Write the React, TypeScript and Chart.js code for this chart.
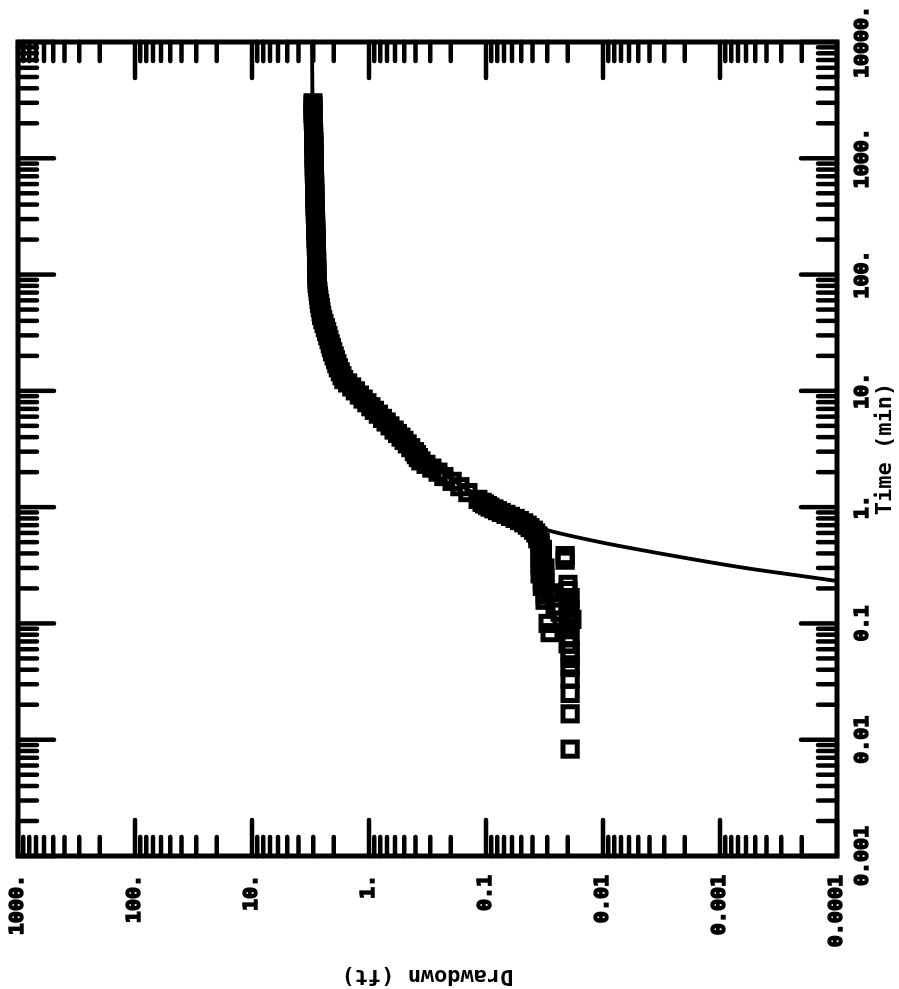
import { useEffect, useRef } from 'react';
import { Chart, registerables } from 'chart.js';

Chart.register(...registerables);

// ---- axis ticks / labels ----
const TIME_TICKS = [0.001, 0.01, 0.1, 1, 10, 100, 1000, 10000];
const TIME_LABELS = ['0.001', '0.01', '0.1', '1.', '10.', '100.', '1000.', '10000.'];
const DRAWDOWN_TICKS = [0.0001, 0.001, 0.01, 0.1, 1, 10, 100, 1000];
const DRAWDOWN_LABELS = ['0.0001', '0.001', '0.01', '0.1', '1.', '10.', '100.', '1000.'];
const X_TITLE = 'Time (min)';
const Y_TITLE = 'Drawdown (ft)';

// ---- observed drawdown (open squares) ----
const OBS_TIME = [
  0.0083, 0.0167, 0.025, 0.0333, 0.0417, 0.05, 0.0583, 0.0667, 0.075, 0.0833,
  0.0917, 0.1, 0.1083, 0.1167, 0.125, 0.1333, 0.1417, 0.15, 0.1583, 0.1667,
  0.175, 0.1833, 0.1917, 0.2, 0.2083, 0.2167, 0.225, 0.2333, 0.25, 0.2667,
  0.2833, 0.3, 0.3167, 0.3333, 0.35, 0.3667, 0.3833, 0.4, 0.4333, 0.4667,
  0.5, 0.5333, 0.5667, 0.6, 0.6333, 0.6667, 0.7, 0.7333, 0.7667, 0.8,
  0.8333, 0.8667, 0.9, 0.9333, 0.9667, 1.0, 1.0333, 1.0667, 1.1, 1.1667,
  1.3333, 1.5, 1.6667, 1.8333, 2.0, 2.1667, 2.3333, 2.5, 2.67, 2.83,
  3.0, 3.25, 3.5, 3.75, 4.0, 4.3, 4.6, 5.0, 5.4, 5.8,
  6.3, 6.8, 7.3, 7.9, 8.5, 9.2, 10, 10.8, 11.7, 12.5,
  13.5, 14.6, 15.8, 17.1, 18.5, 20, 21.7, 23.5, 25.4, 27.5,
  29.8, 32.3, 35, 38, 41, 44.5, 48, 52, 56.5, 61,
  66, 72, 78, 84, 91, 99, 107, 116, 126, 137,
  148, 160, 174, 188, 204, 221, 240, 260, 282, 305,
  330, 358, 388, 420, 455, 493, 534, 578, 626, 678,
  735, 796, 862, 934, 1012, 1096, 1188, 1287, 1394, 1510,
  1636, 1772, 1920, 2080, 2253, 2441, 2644, 2864, 3000,
];
const OBS_DRAWDOWN = [
  0.0191, 0.0191, 0.0191, 0.0191, 0.0191, 0.0191, 0.0191, 0.0199, 0.0191, 0.0284,
  0.0199, 0.0295, 0.0184, 0.0199, 0.0233, 0.0191, 0.0257, 0.0199, 0.0313, 0.0191,
  0.0313, 0.0284, 0.0199, 0.0313, 0.033, 0.0199, 0.0313, 0.033, 0.0313, 0.0345,
  0.033, 0.0313, 0.0345, 0.033, 0.0211, 0.0345, 0.0211, 0.0345, 0.033, 0.0345,
  0.0345, 0.036, 0.036, 0.0376, 0.0393, 0.0421, 0.0444, 0.0476, 0.0517, 0.0564,
  0.0617, 0.0675, 0.0741, 0.0797, 0.0857, 0.0925, 0.097, 0.103, 0.108, 0.117,
  0.143, 0.167, 0.195, 0.229, 0.257, 0.29, 0.326, 0.36, 0.378, 0.394,
  0.41, 0.44, 0.471, 0.502, 0.533, 0.571, 0.61, 0.662, 0.714, 0.767,
  0.832, 0.899, 0.964, 1.044, 1.122, 1.208, 1.306, 1.403, 1.521, 1.642,
  1.701, 1.762, 1.827, 1.881, 1.934, 1.987, 2.044, 2.097, 2.146, 2.197,
  2.249, 2.304, 2.363, 2.425, 2.483, 2.537, 2.57, 2.605, 2.642, 2.676,
  2.7, 2.727, 2.753, 2.777, 2.784, 2.788, 2.792, 2.796, 2.8, 2.804,
  2.808, 2.812, 2.818, 2.825, 2.831, 2.838, 2.845, 2.852, 2.859, 2.866,
  2.872, 2.879, 2.886, 2.894, 2.899, 2.904, 2.908, 2.912, 2.917, 2.921,
  2.926, 2.93, 2.935, 2.939, 2.943, 2.948, 2.952, 2.957, 2.962, 2.967,
  2.972, 2.978, 2.983, 2.988, 2.994, 2.999, 3.004, 3.009, 3.013,
];

// ---- fitted type curve (solid line) ----
const FIT_TIME = [0.22, 0.25, 0.3, 0.4, 0.5, 0.65, 0.8, 1.0, 1.2, 1.5, 2, 3, 4, 6, 10, 20, 30, 50, 100, 300, 1000, 3000, 10000];
const FIT_DRAWDOWN = [0.00007, 0.00017, 0.00061, 0.00326, 0.0106, 0.0326, 0.0512, 0.0805, 0.108, 0.157, 0.238, 0.389, 0.532, 0.805, 1.33, 2.03, 2.29, 2.57, 2.78, 2.87, 2.97, 3.04, 3.07];

const W = 989; // unrotated canvas width (time axis)
const H = 899; // unrotated canvas height (drawdown axis)

const frameTicks = {
  id: 'frameTicks',
  afterDatasetsDraw(chart: any) {
    const { ctx, chartArea } = chart;
    const { left, right, top, bottom } = chartArea;
    const xs = chart.scales.x;
    const ys = chart.scales.y;
    const MAJOR = 36;
    const MINOR = 19;
    ctx.save();
    ctx.strokeStyle = '#000';
    ctx.lineCap = 'round';
    ctx.lineWidth = 4.5;
    const line = (x1: number, y1: number, x2: number, y2: number) => {
      ctx.beginPath();
      ctx.moveTo(x1, y1);
      ctx.lineTo(x2, y2);
      ctx.stroke();
    };
    for (const d of TIME_TICKS) {
      for (let k = 1; k <= 9; k++) {
        const v = d * k;
        if (v > xs.max * 1.0001) continue;
        const p = xs.getPixelForValue(v);
        const len = k === 1 ? MAJOR : MINOR;
        line(p, bottom, p, bottom - len);
        line(p, top, p, top + len);
      }
    }
    for (const d of DRAWDOWN_TICKS) {
      for (let k = 1; k <= 9; k++) {
        const v = d * k;
        if (v > ys.max * 1.0001) continue;
        const p = ys.getPixelForValue(v);
        const len = k === 1 ? MAJOR : MINOR;
        line(left, p, left + len, p);
        line(right, p, right - len, p);
      }
    }
    ctx.lineCap = 'butt';
    ctx.lineWidth = 5;
    ctx.strokeRect(left, top, right - left, bottom - top);
    ctx.restore();
  },
};

export default function App() {
  const ref = useRef<HTMLCanvasElement>(null);

  useEffect(() => {
    const canvas = ref.current;
    if (!canvas) return;
    const obs = OBS_TIME.map((t, i) => ({ x: t, y: OBS_DRAWDOWN[i] }));
    const fit = FIT_TIME.map((t, i) => ({ x: t, y: FIT_DRAWDOWN[i] }));
    const tickFont = { family: '"DejaVu Sans Mono", monospace', size: 20, weight: 'bold' as const };
    const titleFont = { family: '"DejaVu Sans Mono", monospace', size: 22, weight: 'bold' as const };
    const zeroPad = (s: any) => {
      s.paddingTop = 0;
      s.paddingBottom = 0;
      s.paddingLeft = 0;
      s.paddingRight = 0;
    };

    const chart = new Chart(canvas, {
      type: 'scatter',
      data: {
        datasets: [
          {
            label: 'Type curve',
            data: fit,
            showLine: true,
            borderColor: '#000',
            backgroundColor: '#000',
            borderWidth: 3.8,
            pointRadius: 0,
            pointHoverRadius: 0,
            cubicInterpolationMode: 'monotone',
            fill: false,
          } as any,
          {
            label: 'Observed',
            data: obs,
            showLine: false,
            pointStyle: 'rect',
            pointRadius: 10,
            pointHoverRadius: 10,
            borderColor: '#000',
            backgroundColor: 'rgba(0,0,0,0)',
            borderWidth: 5,
          } as any,
        ],
      },
      options: {
        responsive: false,
        animation: false,
        devicePixelRatio: 1,
        events: [],
        layout: { padding: { top: 18, right: 42, left: 0, bottom: 0 } },
        plugins: { legend: { display: false }, tooltip: { enabled: false } },
        scales: {
          x: {
            type: 'logarithmic',
            position: 'bottom',
            min: 0.001,
            max: 10000,
            grid: { display: false, drawTicks: false },
            border: { display: false },
            afterBuildTicks: (s: any) => {
              s.ticks = TIME_TICKS.map((v) => ({ value: v }));
            },
            afterFit: (s: any) => {
              s.height = 62;
              zeroPad(s);
            },
            ticks: {
              autoSkip: false,
              minRotation: 0,
              maxRotation: 0,
              padding: 14,
              color: '#000',
              textStrokeColor: '#000',
              textStrokeWidth: 1.6,
              font: tickFont,
              callback: (_v: any, i: number) => TIME_LABELS[i],
            },
            title: {
              display: true,
              text: X_TITLE,
              color: '#000',
              font: titleFont,
              padding: { top: 0, bottom: 1 },
            },
          },
          y: {
            type: 'logarithmic',
            position: 'left',
            min: 0.0001,
            max: 1000,
            grid: { display: false, drawTicks: false },
            border: { display: false },
            afterBuildTicks: (s: any) => {
              s.ticks = DRAWDOWN_TICKS.map((v) => ({ value: v }));
            },
            afterFit: (s: any) => {
              s.width = 133;
              zeroPad(s);
            },
            ticks: {
              autoSkip: false,
              padding: 19,
              color: '#000',
              textStrokeColor: '#000',
              textStrokeWidth: 1.6,
              font: tickFont,
              callback: (_v: any, i: number) => DRAWDOWN_LABELS[i],
            },
            title: {
              display: true,
              text: Y_TITLE,
              color: '#000',
              font: titleFont,
              padding: { top: 0, bottom: 0 },
            },
          },
        },
      } as any,
      plugins: [frameTicks],
    });
    return () => chart.destroy();
  }, []);

  return (
    <div
      style={{
        position: 'absolute',
        left: 0,
        top: 0,
        width: H,
        height: W,
        overflow: 'hidden',
        background: '#fff',
      }}
    >
      <div
        style={{
          position: 'absolute',
          left: 0,
          top: 0,
          width: W,
          height: H,
          transformOrigin: '0 0',
          transform: `translate(0px, ${W}px) rotate(-90deg)`,
        }}
      >
        <canvas ref={ref} width={W} height={H} style={{ width: W, height: H, display: 'block' }} />
      </div>
    </div>
  );
}
